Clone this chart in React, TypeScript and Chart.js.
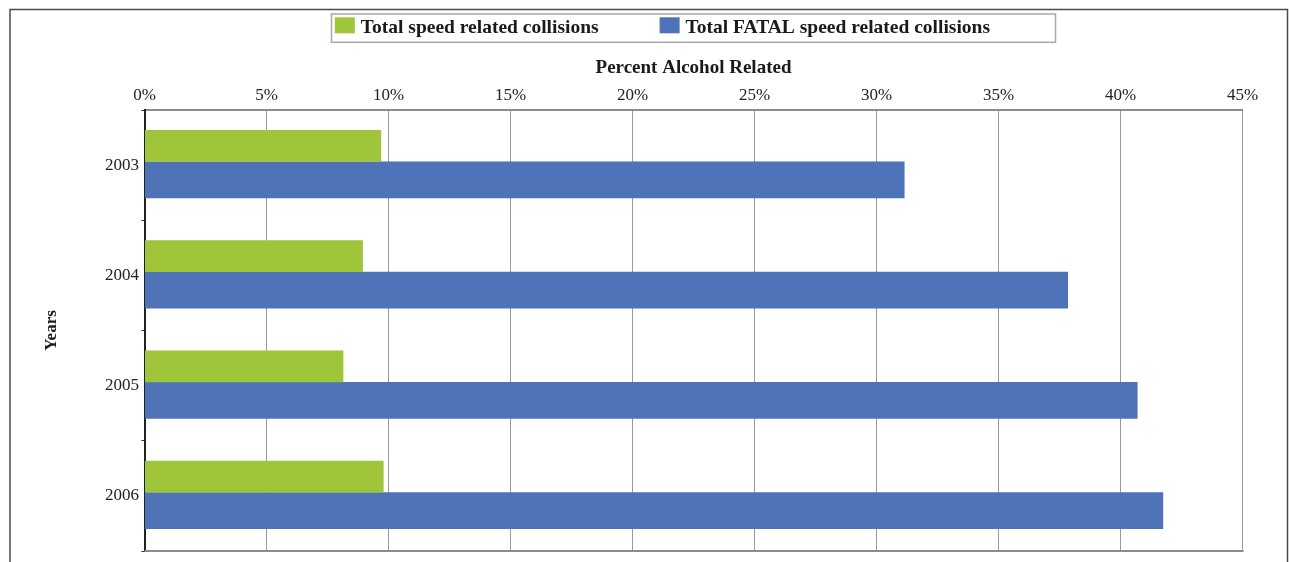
import React, { useEffect, useRef } from "react";
import { Chart, registerables } from "chart.js";

Chart.register(...registerables);

const categories = ["2003", "2004", "2005", "2006"];
const speedRelated = [9.7, 8.95, 8.15, 9.8];
const fatalSpeedRelated = [31.15, 37.85, 40.7, 41.75];
const seriesLabels = ["Total speed related collisions", "Total FATAL speed related collisions"];
const xMin = 0;
const xMax = 45;
const xStep = 5;
const xTitle = "Percent Alcohol Related";
const yTitle = "Years";

const SERIF = "'Liberation Serif', 'Times New Roman', serif";
const GREEN = "#9FC53B";
const BLUE = "#4E73B9";

const framePlugin = {
  id: "frame",
  beforeDraw(chart: any) {
    const ctx = chart.ctx;
    ctx.save();
    ctx.fillStyle = "#ffffff";
    ctx.fillRect(0, 0, chart.width, chart.height);
    ctx.strokeStyle = "#4a4a4a";
    ctx.lineWidth = 1.5;
    ctx.strokeRect(10, 9.5, chart.width - 11.5, chart.height + 20);
    ctx.restore();
  },
  afterDatasetsDraw(chart: any) {
    const ctx = chart.ctx;
    const { left, right, bottom } = chart.chartArea;
    ctx.save();
    ctx.strokeStyle = "#8c8c8c";
    ctx.lineWidth = 2;
    ctx.beginPath();
    ctx.moveTo(left, bottom);
    ctx.lineTo(right + 1, bottom);
    ctx.stroke();
    ctx.restore();
  },
};

const boxLegendPlugin = {
  id: "boxLegend",
  afterDraw(chart: any) {
    const ctx = chart.ctx;
    const { left, right } = chart.chartArea;
    const cx = (left + right) / 2;
    const boxW = 724;
    const boxL = cx - boxW / 2;
    const boxT = 14;
    const boxH = 28.3;
    ctx.save();
    ctx.strokeStyle = "#a8a8a8";
    ctx.lineWidth = 1.5;
    ctx.strokeRect(boxL, boxT, boxW, boxH);
    ctx.font = `bold 19.5px ${SERIF}`;
    ctx.textBaseline = "alphabetic";
    ctx.textAlign = "left";
    let x = boxL + 3.3;
    chart.data.datasets.forEach((ds: any) => {
      ctx.fillStyle = ds.backgroundColor;
      ctx.fillRect(x, 17.3, 20, 16);
      ctx.fillStyle = "#1a1a1a";
      const tx = x + 26;
      ctx.fillText(ds.label, tx, 33);
      x = tx + ctx.measureText(ds.label).width + 61;
    });
    ctx.restore();
  },
};

export default function App() {
  const canvasRef = useRef<HTMLCanvasElement | null>(null);

  useEffect(() => {
    if (!canvasRef.current) return;
    const chart = new Chart(canvasRef.current, {
      type: "bar",
      data: {
        labels: categories,
        datasets: [
          {
            label: seriesLabels[0],
            data: speedRelated,
            backgroundColor: GREEN,
            borderWidth: 0,
            categoryPercentage: 0.7,
            barPercentage: 0.82,
          },
          {
            label: seriesLabels[1],
            data: fatalSpeedRelated,
            backgroundColor: BLUE,
            borderWidth: 0,
            categoryPercentage: 0.537,
            barPercentage: 1.24,
          },
        ],
      },
      options: {
        indexAxis: "y",
        animation: false,
        responsive: true,
        maintainAspectRatio: false,
        layout: { padding: { left: 10, right: 46.5, top: 41.2, bottom: 10.7 } },
        plugins: {
          legend: { display: false },
          tooltip: { enabled: false },
        },
        scales: {
          x: {
            position: "top",
            min: xMin,
            max: xMax,
            ticks: {
              stepSize: xStep,
              color: "#222",
              font: { family: SERIF, size: 17 },
              padding: 3.8,
              callback: (v: any) => `${v}%`,
            },
            grid: { color: "#9a9a9a", lineWidth: 1, drawTicks: false },
            border: { color: "#8c8c8c", width: 2 },
            title: {
              display: true,
              text: xTitle,
              color: "#1a1a1a",
              font: { family: SERIF, size: 19, weight: "bold" },
              padding: { top: 15.4, bottom: 2.6 },
            },
          },
          y: {
            position: "left",
            afterFit: (scale: any) => {
              scale.width = 134.5;
            },
            ticks: {
              color: "#222",
              font: { family: SERIF, size: 17, lineHeight: 1.0 },
              padding: 2.5,
            },
            grid: {
              offset: true,
              drawOnChartArea: false,
              drawTicks: true,
              tickLength: 3,
              color: "#333",
            },
            border: { color: "#222", width: 2 },
            title: {
              display: true,
              text: yTitle,
              color: "#1a1a1a",
              font: { family: SERIF, size: 17, weight: "bold" },
              padding: { top: 31.8, bottom: 0 },
            },
          },
        },
      },
      plugins: [framePlugin, boxLegendPlugin],
    } as any);
    return () => chart.destroy();
  }, []);

  return (
    <div style={{ position: "absolute", left: 0, top: 0, width: 1289, height: 562, background: "#fff" }}>
      <canvas ref={canvasRef} />
    </div>
  );
}
